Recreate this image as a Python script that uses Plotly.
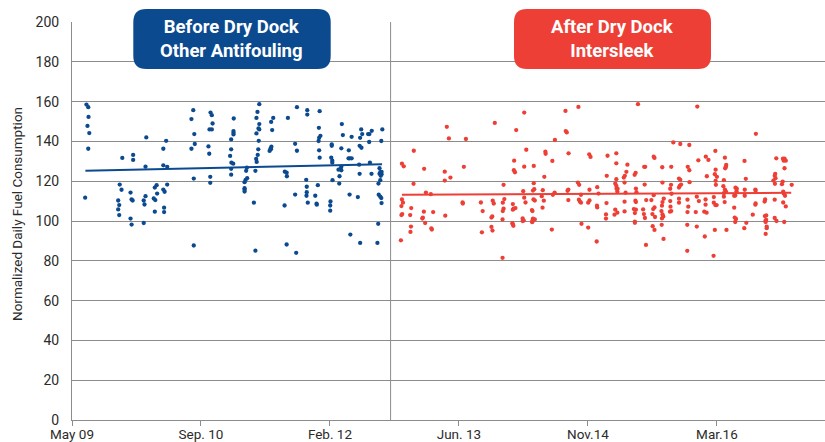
import plotly.graph_objects as go

# x = days since 1 May 2009, y = normalized daily fuel consumption
before_days = [56,63,64,60,67,63,51,195,237,237,288,285,365,354,354,369,
    185,192,179,183,179,183,227,231,235,227,231,278,278,281,285,321,328,330,317,323,321,354,359,369,357,357,
    472,711,832,869,1079,1117,1184,1187,
    470,463,474,476,463,472,537,542,545,533,542,529,532,536,536,
    627,626,626,626,617,617,613,618,625,617,617,
    678,675,679,673,669,669,669,669,705,
    726,719,715,726,723,726,715,724,722,720,714,716,711,
    780,772,776,773,770,766,771,
    837,825,832,833,824,
    872,912,912,960,957,958,963,956,958,960,865,872,
    1046,1050,1007,1007,1044,1073,1005,1009,1009,1072,1077,1084,1033,1041,1044,1044,1037,1036,1010,
    908,910,910,909,865,914,953,943,948,949,1002,1001,1001,
    1084,1121,1125,1117,1115,1122,1113,1115,1076,1108,
    1148,1153,1162,1152,1155,1161,
    1203,1199,1192,1200,1195,1192,1200,1197,1195,1188,1189,1195,1199,1200]
before_values = [158.5,157.2,152.3,147.8,144.2,136.3,111.7,131.7,133.2,130.7,142,127.3,140.3,136.3,128,127.2,
    118.3,115.7,110.3,108,105.8,103,114.3,110.8,110.3,101.2,98.2,99,110.3,108.3,112.5,116.8,118,113.8,111.3,110.5,104.7,115.8,114.7,118.3,106.7,104.5,
    87.7,85.1,88.2,84,93.2,89,89,98.6,
    155.7,151.2,143.7,138.7,136.3,121.3,154.5,153.2,149,146,146,137.5,133.8,122.2,119.2,
    151.5,145.2,144.3,143.5,141,136,132.7,129.3,128.8,126.2,123.3,
    126.8,125.2,121.5,120.7,119.5,116.5,115.7,114.8,109.2,
    158.7,154.8,151.8,148.7,146.5,146,144,140.3,136,133.2,131.2,129.7,125.2,
    151.8,149.8,145.7,137.3,136.5,135.2,136,
    151.8,124.8,124.3,122.5,107.8,
    157.2,155.7,153.5,155.2,146.8,141.8,142.8,140.2,135.5,131.8,138.8,135.3,
    148.7,143.2,138.5,137.8,136.5,135.5,131.8,130.3,129.3,131.5,131.5,131.5,125.8,126.2,125.5,127.3,122.5,118.8,120.5,
    120.7,117.2,114.5,112.7,113.3,109.2,118,112.7,108.7,108.2,109.8,107.8,105.2,
    142.3,146,143.7,141.8,137.8,136.8,128.3,123.7,113.3,112,
    143.7,143.7,145.3,139.7,129.3,123.7,
    146,140.2,126.5,124.7,124.5,123.7,123.5,122.7,120.5,118.8,113.2,112.2,111.5,109]

after_days = [1453,1461,1527,1639,1325,1279,1286,1365,1445,1519,1467,1445,1324,1372,1391,1279,1283,1277,1315,1364,1400,1280,1277,1311,1360,1358,1369,1447,1393,1395,1314,1312,1275,1514,1515,1585,1592,1631,1635,1629,1626,1626,1630,1589,
    1669,1707,1711,1709,1747,1747,1784,1860,1975,2001,2034,2182,2182,2225,2251,2258,2286,2293,2385,2385,2422,2453,2487,2492,2537,2571,2606,2614,2689,2693,2693,2689,2731,2761,
    1753,1722,1913,1963,1914,1918,1872,1761,1835,1836,1925,2005,2010,1714,1862,1713,1717,1753,1790,1831,1673,1790,1792,1787,1749,1825,1871,1864,1924,1921,1961,1966,2006,2036,2041,1821,1753,1789,1794,1829,1924,1973,1965,1969,1973,2006,2001,2035,2036,1676,1670,1709,1758,1673,1670,1712,1719,1709,1824,1783,1785,1669,1751,1787,1794,1785,
    2194,2424,2331,2358,2393,2076,2110,2110,2153,2255,2258,2218,2222,2288,2323,2387,2393,2428,2457,2467,2073,2110,2149,2143,2139,2185,2181,2106,2110,2111,2115,2114,2146,2142,2186,2188,2220,2289,2322,2319,2324,2353,2358,2356,2361,2353,2394,2461,2255,2072,2142,2142,2184,2186,2226,2246,2258,2253,2294,2289,2287,2285,2319,2320,2323,2318,2353,2353,2386,2389,2386,2422,2430,2456,2456,2451,2460,2418,2106,2114,2103,2070,2070,2178,2186,2182,2214,2217,2221,2250,2260,2289,2292,2287,
    2651,2494,2531,2536,2535,2532,2607,2730,2756,2762,2767,2759,2762,2495,2492,2500,2527,2612,2726,2724,2727,2719,2725,2755,2752,2790,2495,2496,2525,2531,2535,2527,2572,2577,2576,2571,2567,2608,2608,2649,2650,2757,2759,2764,2488,2527,2530,2488,2494,2499,2650,2649,2687,2685,2724,2757,2767,2567,2639,2691,2686,2569,2574,2688,2691,2724]
after_values = [147.3,141.5,141.2,149.3,135.3,128.8,127.5,126.2,124.8,127.2,121.8,120.3,118.7,114.3,113.5,110.8,109.2,107.5,106.5,104.7,104.5,103.5,103,103,101.7,101.2,99,102.7,96.3,95.7,97.2,94.5,90.3,109.3,108.8,109.3,105,110.2,108.8,102.3,101.7,97,95.2,94.3,
    81.5,98.9,97.6,98.3,100,101.3,99.4,95.7,98.6,96.7,89.7,99.7,99.1,88,97.4,95.5,98.1,91,98.1,85,97.2,92.2,82.5,95.5,95.5,99.5,96.4,99.1,93.5,97.2,96.4,99.5,100,99.5,
    154.5,145.7,155.3,157.3,145.2,144.5,140.7,135.8,134.8,133.8,134,133.5,132.2,130.3,130.2,125.5,124.5,127.3,127.7,122.2,118.2,119,116,115.3,115,115.5,114.3,113.2,115.8,115.2,119.3,118.2,115.7,117,113.8,112.5,111.7,110.8,110.3,110.2,110.5,113.2,110.7,109.7,109.2,110.3,109.2,107.7,106.8,111,109.2,108.5,109.3,106.2,105,106.2,106.5,105.7,106.7,105.5,105,100.8,100.2,101.2,100.8,100.2,
    158.7,157.5,139.5,138.7,138.2,132.8,134,129,128.3,132.3,131.7,127.2,127.2,127,127.2,127.2,125.5,130.5,132.3,130.7,122.7,121,124.7,122.7,121.8,124.2,123.2,118.8,117.7,116.2,116.2,114.8,114.2,119.3,116.3,114.5,118.3,119.3,118.2,116.2,113.7,121.3,120.7,117.7,118.3,116.8,119.5,122.5,113,109,109.7,104.8,110.2,109.5,110.5,110.5,106.8,106,111.2,109.5,107.7,105,110,107.2,105,104.7,111.2,109.2,110.7,107.2,104.5,112.2,110,110.8,108.2,104.7,104.2,104.5,105.7,104.2,103.2,103.3,101.2,106,105.7,104,105.8,103.5,101.5,103.5,102,103.3,102.3,101.3,
    143.8,135.2,131.8,128.2,127.3,126.5,130.2,131.5,131.3,131.3,130.3,130.3,126.5,125.8,123.5,122.2,120.5,121.2,123.7,122.7,121.5,120.3,118.7,119.8,118.5,118.2,120.2,118.2,117.5,115.8,114.8,114,116.7,116.2,115,112.8,112.7,115.7,112.7,115.8,115.2,114.8,113.8,112.7,112,112.2,109.5,109.2,108,108,108.8,108.2,110.8,109.8,110.7,109.3,107.3,106.7,103.2,102.8,102.5,101.7,101,100,100.5,101.5]

before_trend_days = [52, 1202]
before_trend_values = [125.3, 128.5]
after_trend_days = [1279, 2788]
after_trend_values = [113.2, 114.2]

dry_dock_day = 1235
tick_days = [0, 500, 1000, 1500, 2000, 2500]
tick_labels = ["May 09", "Sep. 10", "Feb. 12", "Jun. 13", "Nov.14", "Mar.16"]
y_ticks = [0, 20, 40, 60, 80, 100, 120, 140, 160, 180, 200]

BLUE = "#0B4A8F"
RED = "#EE3F36"
GRID = "#8C8C8C"
TXT = "#2B2B2B"
FONT = "Roboto, sans-serif"

L, R, T, B = 72, 0, 22, 22
W, H = 825, 442
PW, PH = W - L - R, H - T - B

fig = go.Figure()
fig.add_trace(go.Scatter(x=before_days, y=before_values, mode="markers",
                         marker=dict(color=BLUE, size=4.3), showlegend=False, hoverinfo="skip"))
fig.add_trace(go.Scatter(x=after_days, y=after_values, mode="markers",
                         marker=dict(color=RED, size=4.3), showlegend=False, hoverinfo="skip"))
fig.add_trace(go.Scatter(x=before_trend_days, y=before_trend_values, mode="lines",
                         line=dict(color=BLUE, width=2), showlegend=False))
fig.add_trace(go.Scatter(x=after_trend_days, y=after_trend_values, mode="lines",
                         line=dict(color=RED, width=2), showlegend=False))

fig.add_shape(type="line", xref="x", yref="y", x0=dry_dock_day, x1=dry_dock_day, y0=0, y1=200,
              line=dict(color=GRID, width=1), layer="below")


def rounded_box(x0, x1, y0, y1, r_px):
    rx = r_px / PW
    ry = r_px / PH
    return (f"M {x0+rx},{y1} L {x1-rx},{y1} Q {x1},{y1} {x1},{y1-ry} "
            f"L {x1},{y0+ry} Q {x1},{y0} {x1-rx},{y0} L {x0+rx},{y0} "
            f"Q {x0},{y0} {x0},{y0+ry} L {x0},{y1-ry} Q {x0},{y1} {x0+rx},{y1} Z")


boxes = [
    (133.3, 330.7, BLUE, "Before Dry Dock<br>Other Antifouling"),
    (514.0, 711.0, RED, "After Dry Dock<br>Intersleek"),
]
for px0, px1, col, txt in boxes:
    x0 = (px0 - L) / PW
    x1 = (px1 - L) / PW
    y_top = (H - B - 9) / PH
    y_bot = (H - B - 69) / PH
    fig.add_shape(type="path", xref="paper", yref="paper",
                  path=rounded_box(x0, x1, y_bot, y_top, 13),
                  fillcolor=col, line=dict(width=0), layer="above")
    fig.add_annotation(xref="paper", yref="paper", x=(x0 + x1) / 2, y=(y_top + y_bot) / 2,
                       text=f"<b>{txt}</b>", showarrow=False,
                       font=dict(family=FONT, size=18.5, color="white"),
                       align="center", xanchor="center", yanchor="middle")

# y axis title as rotated text
fig.add_annotation(xref="paper", yref="paper", x=(17 - L) / PW, y=(H - B - 214) / PH,
                   text="Normalized Daily Fuel Consumption", textangle=-90, showarrow=False,
                   font=dict(family=FONT, size=13.5, color=TXT),
                   xanchor="center", yanchor="middle")

fig.update_layout(
    width=W, height=H,
    margin=dict(l=L, r=R, t=T, b=B),
    paper_bgcolor="white", plot_bgcolor="white",
    font=dict(family=FONT, size=14, color=TXT),
)
fig.update_xaxes(range=[0, 2919], tickvals=tick_days, ticktext=tick_labels, automargin=False,
                 showgrid=False, zeroline=False, showline=True, linecolor=GRID, linewidth=1,
                 ticks="outside", ticklen=5, tickcolor=GRID, ticklabelstandoff=-3,
                 tickfont=dict(family=FONT, size=13.5, color=TXT))
fig.update_yaxes(range=[0, 200], tickvals=y_ticks, showgrid=True, gridcolor=GRID, gridwidth=1,
                 automargin=False, zeroline=False, showline=True, linecolor=GRID, linewidth=1,
                 ticks="", ticklabelstandoff=9,
                 tickfont=dict(family=FONT, size=14, color=TXT))

fig.write_html("out.html", config={"displayModeBar": False},
               post_script="document.body.style.margin='0';document.body.style.padding='0';")
